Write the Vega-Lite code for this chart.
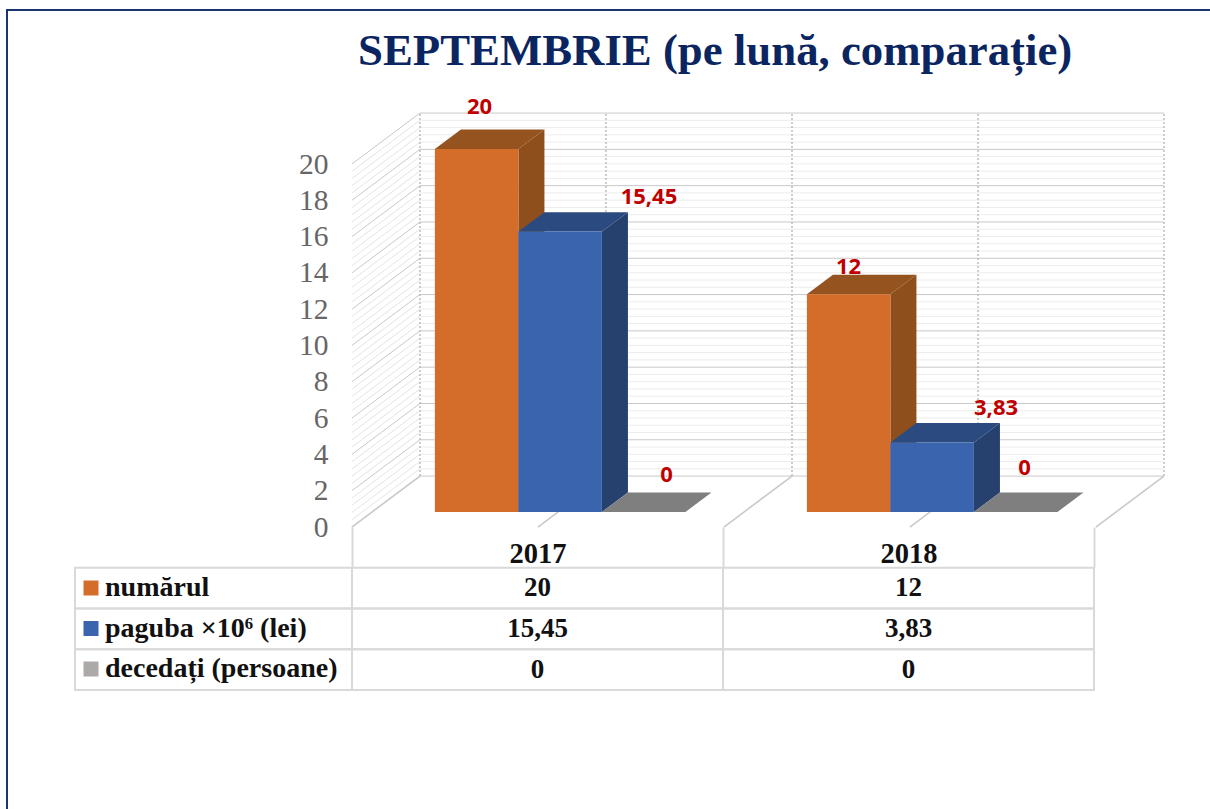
{"$schema":"https://vega.github.io/schema/vega-lite/v6.json","width":1210,"height":809,"padding":0,"autosize":{"type":"none"},"background":"white","config":{"view":{"stroke":null}},
"title":{"text":"SEPTEMBRIE (pe lună, comparație)","anchor":"start","frame":"group","dx":358,"dy":79,"font":"Liberation Serif","fontSize":44.8,"fontWeight":"bold","color":"#0B2560"},
"datasets":{
"bars":[{"year":"2017","series":"numărul","value":20,"label":"20"},{"year":"2017","series":"paguba ×10⁶ (lei)","value":15.45,"label":"15,45"},{"year":"2017","series":"decedați (persoane)","value":0,"label":"0"},{"year":"2018","series":"numărul","value":12,"label":"12"},{"year":"2018","series":"paguba ×10⁶ (lei)","value":3.83,"label":"3,83"},{"year":"2018","series":"decedați (persoane)","value":0,"label":"0"}],
"grid":[{"v":0},{"v":0.4},{"v":0.8},{"v":1.2},{"v":1.6},{"v":2},{"v":2.4},{"v":2.8},{"v":3.2},{"v":3.6},{"v":4},{"v":4.4},{"v":4.8},{"v":5.2},{"v":5.6},{"v":6},{"v":6.4},{"v":6.8},{"v":7.2},{"v":7.6},{"v":8},{"v":8.4},{"v":8.8},{"v":9.2},{"v":9.6},{"v":10},{"v":10.4},{"v":10.8},{"v":11.2},{"v":11.6},{"v":12},{"v":12.4},{"v":12.8},{"v":13.2},{"v":13.6},{"v":14},{"v":14.4},{"v":14.8},{"v":15.2},{"v":15.6},{"v":16},{"v":16.4},{"v":16.8},{"v":17.2},{"v":17.6},{"v":18},{"v":18.4},{"v":18.8},{"v":19.2},{"v":19.6},{"v":20}],
"walls":[{"k":0},{"k":0.5},{"k":1},{"k":1.5},{"k":2}]},
"resolve":{"scale":{"x":"independent","y":"independent","color":"independent"},"axis":{"x":"independent","y":"independent"}},
"layer":[
{"data":{"name":"grid"},"transform":[{"calculate":"datum.v+2.81","as":"yb"}],"mark":{"type":"rule","strokeWidth":1},
"encoding":{"x":{"datum":-0.183,"type":"quantitative","scale":{"domain":[0,1],"range":[420,792],"zero":false,"nice":false},"axis":null},"x2":{"datum":0},
"y":{"field":"v","type":"quantitative","scale":{"domain":[0,20],"range":[527,164],"zero":false,"nice":false},"axis":{"orient":"left","offset":-328,"values":[0,2,4,6,8,10,12,14,16,18,20],"title":null,"ticks":false,"domain":false,"grid":false,"labelPadding":0,"labelFont":"Liberation Serif","labelFontSize":29.5,"labelColor":"#666666"}},"y2":{"field":"yb"},
"stroke":{"condition":{"test":"datum.v % 2 == 0","value":"#c8c8c8"},"value":"#e4e4e4"}}},
{"data":{"name":"bars"},
"transform":[{"calculate":"datum.year=='2018'?1:0","as":"yi"},{"calculate":"indexof(['numărul','paguba ×10⁶ (lei)','decedați (persoane)'],datum.series)","as":"si"},{"calculate":"datum.yi+0.04+datum.si*0.2245","as":"l"},{"calculate":"datum.l+0.2245","as":"r"},{"calculate":"datum.year+datum.series","as":"key"}],
"resolve":{"scale":{"color":"independent"}},
"layer":[
{"data":{"name":"grid"},"transform":[{"calculate":"datum.v+1.98","as":"yb"}],"mark":{"type":"rule","strokeWidth":1},
"encoding":{"x":{"datum":0,"type":"quantitative","scale":{"domain":[0,1],"range":[420,792],"zero":false,"nice":false},"axis":null},"x2":{"datum":2},
"y":{"field":"yb","type":"quantitative","scale":{"domain":[0,20],"range":[512,149],"zero":false,"nice":false},"axis":null},
"stroke":{"condition":{"test":"datum.v % 2 == 0","value":"#c8c8c8"},"value":"#ececec"}}},
{"data":{"name":"walls"},"transform":[{"calculate":"1.98","as":"a"},{"calculate":"21.98","as":"b"}],"mark":{"type":"rule","stroke":"#bdbdbd","strokeWidth":1.5,"strokeDash":[2,2]},
"encoding":{"x":{"field":"k","type":"quantitative","scale":{"domain":[0,1],"range":[420,792],"zero":false,"nice":false},"axis":null},
"y":{"field":"a","type":"quantitative","scale":{"domain":[0,20],"range":[512,149],"zero":false,"nice":false},"axis":null},"y2":{"field":"b"}}},
{"data":{"name":"walls"},"transform":[{"calculate":"datum.k-0.183","as":"xf"},{"calculate":"-0.83","as":"a"},{"calculate":"1.98","as":"b"}],"mark":{"type":"rule","stroke":"#c8c8c8","strokeWidth":1.5},
"encoding":{"x":{"field":"xf","type":"quantitative","scale":{"domain":[0,1],"range":[420,792],"zero":false,"nice":false},"axis":null},"x2":{"field":"k"},
"y":{"field":"a","type":"quantitative","scale":{"domain":[0,20],"range":[512,149],"zero":false,"nice":false},"axis":null},"y2":{"field":"b"}}},
{"transform":[{"calculate":"[0,1]","as":"t"},{"flatten":["t"]},{"calculate":"datum.r+datum.t*0.07","as":"xs"},{"calculate":"datum.t*1.07","as":"y0"},{"calculate":"datum.value+datum.t*1.07","as":"y1"}],"mark":{"type":"area"},
"encoding":{"x":{"field":"xs","type":"quantitative","scale":{"domain":[0,1],"range":[420,792],"zero":false,"nice":false},"axis":null},
"y":{"field":"y0","type":"quantitative","scale":{"domain":[0,20],"range":[512,149],"zero":false,"nice":false},"axis":null},"y2":{"field":"y1"},"detail":{"field":"key"},
"color":{"field":"series","type":"nominal","scale":{"domain":["numărul","paguba ×10⁶ (lei)","decedați (persoane)"],"range":["#8F4F1C","#27416F","#7F7F7F"]},"legend":null}}},
{"transform":[{"calculate":"[0,1]","as":"t"},{"flatten":["t"]},{"calculate":"datum.l+datum.t*0.07","as":"x0"},{"calculate":"datum.r+datum.t*0.07","as":"x1"},{"calculate":"datum.value+datum.t*1.07","as":"y1"}],"mark":{"type":"area","orient":"horizontal"},
"encoding":{"x":{"field":"x0","type":"quantitative","scale":{"domain":[0,1],"range":[420,792],"zero":false,"nice":false},"axis":null},"x2":{"field":"x1"},
"y":{"field":"y1","type":"quantitative","scale":{"domain":[0,20],"range":[512,149],"zero":false,"nice":false},"axis":null},"detail":{"field":"key"},
"color":{"field":"series","type":"nominal","scale":{"domain":["numărul","paguba ×10⁶ (lei)","decedați (persoane)"],"range":["#95531F","#2A4A80","#7F7F7F"]},"legend":null}}},
{"mark":{"type":"bar"},
"encoding":{"x":{"field":"l","type":"quantitative","scale":{"domain":[0,1],"range":[420,792],"zero":false,"nice":false},"axis":null},"x2":{"field":"r"},
"y":{"field":"value","type":"quantitative","scale":{"domain":[0,20],"range":[512,149],"zero":false,"nice":false},"axis":null},"y2":{"datum":0},
"color":{"field":"series","type":"nominal","scale":{"domain":["numărul","paguba ×10⁶ (lei)","decedați (persoane)"],"range":["#D46D29","#3A64AD","#ADA9A9"]},
"legend":{"orient":"none","legendX":77,"legendY":574,"title":null,"padding":0,"symbolType":"square","symbolSize":225,"symbolStrokeWidth":0,"symbolOpacity":1,"labelOffset":0,"labelFont":"Liberation Serif","labelFontSize":28,"labelFontWeight":"bold","labelColor":"#111111","rowPadding":12.5,"labelLimit":300}}}},
{"transform":[{"calculate":"{'2017numărul':0.008,'2017paguba ×10⁶ (lei)':0.239,'2017decedați (persoane)':0.062,'2018numărul':0,'2018paguba ×10⁶ (lei)':0.172,'2018decedați (persoane)':0.024}[datum.key]","as":"odx"},{"calculate":"{'2017numărul':2.31,'2017paguba ×10⁶ (lei)':1.91,'2017decedați (persoane)':2.04,'2018numărul':1.5,'2018paguba ×10⁶ (lei)':1.9,'2018decedați (persoane)':2.42}[datum.key]","as":"ody"},{"calculate":"datum.l+0.112+datum.odx","as":"lx"},{"calculate":"datum.value+datum.ody","as":"ly"}],"mark":{"type":"text","font":"Open Sans","fontSize":22,"fontWeight":"bold","color":"#C00000","align":"center","baseline":"middle"},
"encoding":{"x":{"field":"lx","type":"quantitative","scale":{"domain":[0,1],"range":[420,792],"zero":false,"nice":false},"axis":null},
"y":{"field":"ly","type":"quantitative","scale":{"domain":[0,20],"range":[512,149],"zero":false,"nice":false},"axis":null},"text":{"field":"label"}}}
]},
{"data":{"name":"bars"},"mark":{"type":"rect","fill":"white","fillOpacity":0,"stroke":"#d9d9d9","strokeWidth":2},
"encoding":{"x":{"field":"year","type":"nominal","scale":{"type":"band","domain":["2017","2018"],"range":[352,1094],"paddingInner":0,"paddingOuter":0},"axis":{"orient":"bottom","offset":-282,"title":null,"domain":false,"tickBand":"extent","tickSize":40,"tickWidth":2,"tickColor":"#d9d9d9","labelAngle":0,"labelPadding":-28,"labelFont":"Liberation Serif","labelFontSize":28.5,"labelFontWeight":"bold","labelColor":"#111111"}},
"y":{"field":"series","type":"nominal","scale":{"type":"band","domain":["header","numărul","paguba ×10⁶ (lei)","decedați (persoane)"],"range":[527,690],"paddingInner":0,"paddingOuter":0},"axis":null}}},
{"data":{"name":"bars"},"mark":{"type":"text","font":"Liberation Serif","fontSize":27,"fontWeight":"bold","color":"#111111"},
"encoding":{"x":{"field":"year","type":"nominal","scale":{"type":"band","domain":["2017","2018"],"range":[352,1094],"paddingInner":0,"paddingOuter":0},"axis":null},
"y":{"field":"series","type":"nominal","scale":{"type":"band","domain":["header","numărul","paguba ×10⁶ (lei)","decedați (persoane)"],"range":[527,690],"paddingInner":0,"paddingOuter":0},"axis":null},"text":{"field":"label"}}},
{"data":{"name":"bars"},"transform":[{"filter":"datum.year=='2017'"}],"mark":{"type":"rect","fillOpacity":0,"fill":"white","stroke":"#d9d9d9","strokeWidth":2},
"encoding":{"x":{"datum":"label","type":"nominal","scale":{"type":"band","domain":["label"],"range":[75,352],"paddingInner":0,"paddingOuter":0},"axis":null},
"y":{"field":"series","type":"nominal","scale":{"type":"band","domain":["header","numărul","paguba ×10⁶ (lei)","decedați (persoane)"],"range":[527,690],"paddingInner":0,"paddingOuter":0},"axis":null}}},
{"data":{"values":[{"frame":"frame"}]},"mark":{"type":"rect","fillOpacity":0,"fill":"white","stroke":"#17356F","strokeWidth":2},
"encoding":{"x":{"field":"frame","type":"nominal","scale":{"type":"band","domain":["frame"],"range":[7,1300],"paddingInner":0,"paddingOuter":0},"axis":null},
"y":{"field":"frame","type":"nominal","scale":{"type":"band","domain":["frame"],"range":[10,900],"paddingInner":0,"paddingOuter":0},"axis":null}}}
]}
